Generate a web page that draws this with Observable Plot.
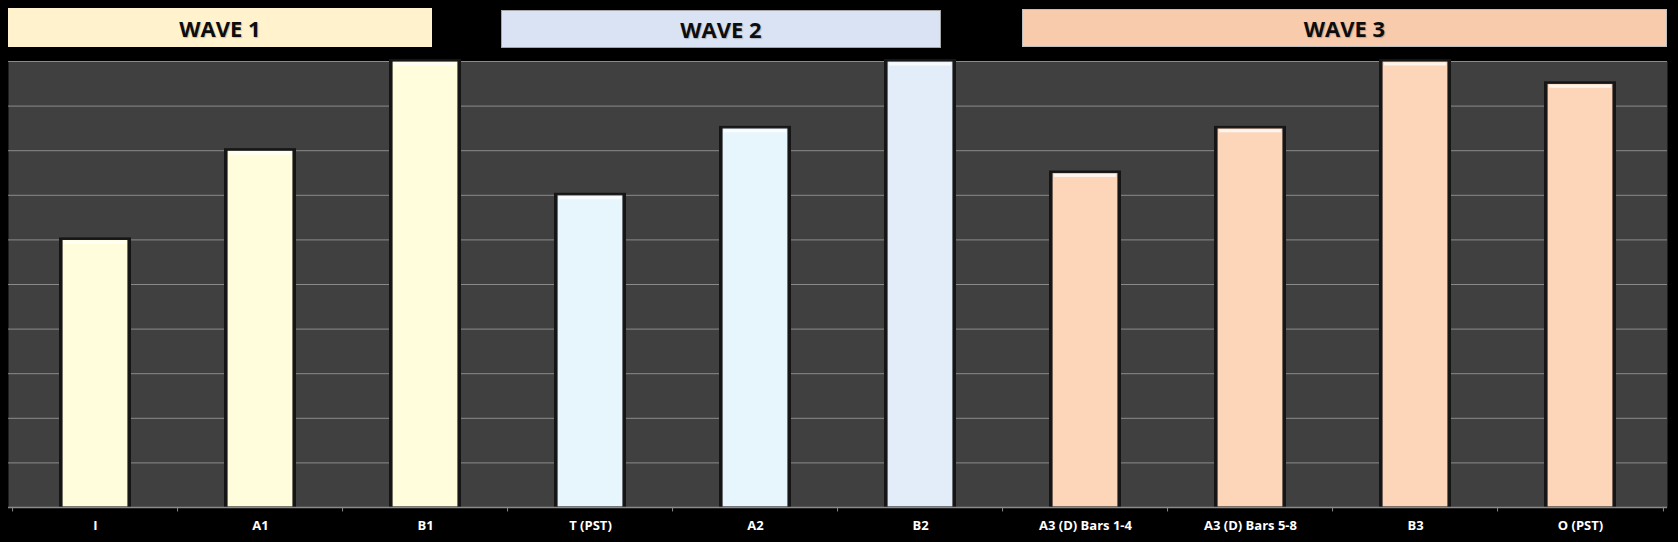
<!DOCTYPE html>
<html><head><meta charset="utf-8">
<script src="https://cdn.jsdelivr.net/npm/d3@7"></script>
<script src="https://cdn.jsdelivr.net/npm/@observablehq/plot@0.6"></script>
<style>
body{margin:0;background:#000;width:1678px;height:542px;overflow:hidden;font-family:"Open Sans",sans-serif}
#head{position:relative;height:55px}
.wave{position:absolute;box-sizing:border-box;display:flex;align-items:center;justify-content:center;font-weight:bold;font-size:22px;color:#0d0d0d;text-shadow:1px 1px 1px rgba(0,0,0,0.2)}
</style></head><body>
<div id="head"></div><div id="chart"></div>
<script>
// ---- data ----
const categories = ["I","A1","B1","T (PST)","A2","B2","A3 (D) Bars 1-4","A3 (D) Bars 5-8","B3","O (PST)"];
const values = [6, 8, 10, 7, 8.5, 10, 7.5, 8.5, 10, 9.5];
const waveOf = ["WAVE 1","WAVE 1","WAVE 1","WAVE 2","WAVE 2","WAVE 2","WAVE 3","WAVE 3","WAVE 3","WAVE 3"];
const waveTitles = ["WAVE 1","WAVE 2","WAVE 3"];
const yTicks = [0,1,2,3,4,5,6,7,8,9,10];

// ---- styles ----
const barFill = {"I":"#FFFDDC","A1":"#FFFDDC","B1":"#FFFDDC","T (PST)":"#E7F5FD","A2":"#E7F5FD","B2":"#E3EDFA",
  "A3 (D) Bars 1-4":"#FDD5B8","A3 (D) Bars 5-8":"#FDD5B8","B3":"#FDD5B8","O (PST)":"#FDD5B8"};
const headerStyle = {
  "WAVE 1":{left:8,top:8,width:424,height:39,bg:"#FFF2CC",border:"none"},
  "WAVE 2":{left:501,top:10,width:440,height:38,bg:"#DAE3F3",border:"1px solid #A6A6A6"},
  "WAVE 3":{left:1022,top:9,width:645,height:38,bg:"#F8CBAD",border:"1px solid #BFBFBF"}
};

const head = document.getElementById("head");
for (const t of waveTitles) {
  const s = headerStyle[t];
  const d = document.createElement("div");
  d.className = "wave";
  d.textContent = t;
  Object.assign(d.style,{left:s.left+"px",top:s.top+"px",width:s.width+"px",height:s.height+"px",background:s.bg,border:s.border});
  head.appendChild(d);
}

const data = categories.map((c,i)=>({category:c, value:values[i], wave:waveOf[i]}));
const W = 1678, mL = 8, mR = 11;
const step = (W - mL - mR) / categories.length;

const chart = Plot.plot({
  width: W, height: 487,
  marginLeft: mL, marginRight: mR, marginTop: 6, marginBottom: 35,
  style: {background: "#000", color: "#fff", fontFamily: "'Open Sans', sans-serif", overflow: "visible"},
  x: {domain: categories, paddingInner: 0.6, paddingOuter: 0.3, axis: null, label: null},
  y: {domain: [0, 10], axis: null},
  marks: [
    Plot.frame({fill: "#404040", stroke: "none"}),
    Plot.ruleY(yTicks, {stroke: "#8a8a8a", strokeWidth: 1}),
    // bar shadow
    Plot.barY(data, {x: "category", y: "value", fill: "#151515", insetLeft: -3, insetRight: -3, insetTop: -2}),
    Plot.barY(data, {x: "category", y: "value", fill: d => barFill[d.category], stroke: "#1a1a1a", strokeWidth: 1.2}),
    // top highlight
    Plot.barY(data, {x: "category", y1: d => d.value - 0.1, y2: d => d.value - 0.03, fill: "#ffffff", fillOpacity: 0.75, insetLeft: 2, insetRight: 2}),
    Plot.ruleY([0], {stroke: "#8a8a8a", strokeWidth: 1.5}),
    // boundary ticks
    Plot.ruleX(categories, {x: d => d, y1: 0, y2: -0.1, dx: -step/2, stroke: "#8a8a8a"}),
    Plot.ruleX(categories.slice(-1), {x: d => d, y1: 0, y2: -0.1, dx: step/2, stroke: "#8a8a8a"}),
    Plot.axisX({tickSize: 0, tickPadding: 13, fontSize: 13, fontWeight: "bold", fill: "#fff", label: null})
  ]
});
document.getElementById("chart").appendChild(chart);
</script>
</body></html>
